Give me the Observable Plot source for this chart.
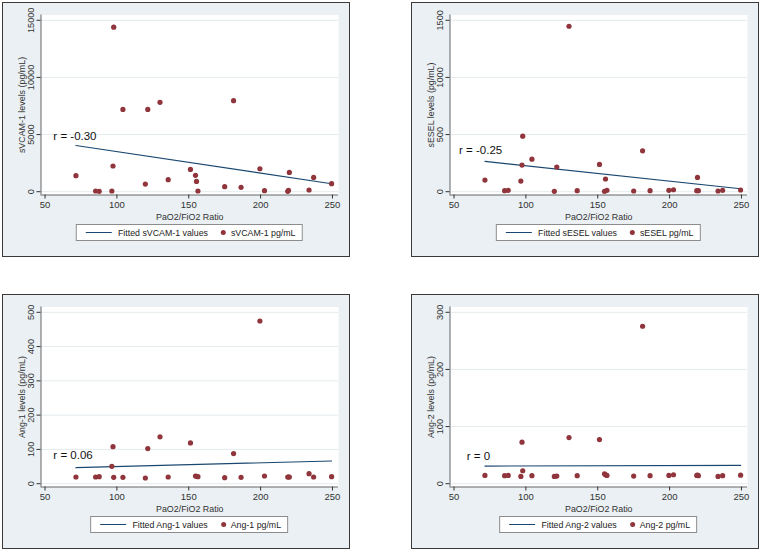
<!DOCTYPE html>
<html><head><meta charset="utf-8">
<script src="https://cdn.jsdelivr.net/npm/d3@7"></script>
<script src="https://cdn.jsdelivr.net/npm/@observablehq/plot@0.6"></script>
<style>
body{margin:0;background:#fff;font-family:"Liberation Sans",Arial,sans-serif;}
#wrap{position:relative;width:762px;height:553px;overflow:hidden;}
.panel{position:absolute;width:348px;height:255px;border:1.5px solid #3a3a3a;box-sizing:border-box;background:#eaf0f3;}
.panel svg{position:absolute;left:0;top:0;}
.legend{position:absolute;top:221px;height:17px;background:#fff;border:1px solid #8c8c8c;box-sizing:border-box;font-size:8.8px;color:#222;display:flex;align-items:center;padding:0 6px 0 9px;white-space:nowrap;transform:translateX(-50%);}
.sw-line{display:inline-block;width:26px;height:0;border-top:1px solid #1a476f;margin-right:6px;}
.sw-dot{display:inline-block;width:5px;height:5px;border-radius:50%;background:#90353b;margin:0 5px 0 13px;}
</style></head>
<body><div id="wrap"></div>
<script>
// PaO2/FiO2 ratio (shared by all panels)
const ratio = [71.5, 85.2, 87.7, 96.5, 97.3, 97.8, 104.2, 119.8, 121.5, 130.0, 135.7, 151.2, 154.7, 155.4, 156.4, 175.0, 181.2, 186.4, 199.5, 202.7, 218.9, 219.4, 220.0, 233.7, 236.9, 249.4];
const sVCAM = [1400, 60, 30, 60, 2250, 14400, 7200, 670, 7200, 7820, 1050, 1950, 1430, 900, 60, 440, 7970, 380, 2010, 90, 30, 120, 1690, 150, 1250, 700];
const sESEL = [102, 9, 12, 93, 233, 486, 285, 3, 216, 1448, 9, 239, 3, 111, 12, 6, 358, 9, 12, 17, 9, 125, 9, 6, 12, 15];
const ang1 = [19.5, 19.5, 20.5, 50.8, 108, 18.6, 18.6, 16.6, 102.5, 136.7, 19.5, 119, 22.5, 21.5, 20.5, 17.6, 88, 18.6, 474.6, 22.5, 19.5, 19.5, 19.5, 29.3, 19.5, 20.5];
const ang2 = [14.5, 14, 14.5, 12.8, 72.7, 22.7, 14, 12.8, 13.4, 80.8, 14, 77.3, 17.4, 15.5, 14.5, 13.4, 275.6, 14, 14.5, 15.7, 14.5, 15, 14, 12.8, 14, 15];

// fitted line endpoints
const fitX = [71.5, 249.4];
const fitSVCAM = [4050, 700];
const fitSESEL = [265, 26];
const fitAng1 = [46.9, 66.4];
const fitAng2 = [30.8, 32.0];

// correlation annotations
const rLabels = ["r = -0.30", "r = -0.25", "r = 0.06", "r = 0"];
const rX = [55.8, 53.5, 55.8, 58.9];
const rY = [4815, 361, 82, 47.7];

// axes
const xTicks = [50, 100, 150, 200, 250];
const yTicksSVCAM = [0, 5000, 10000, 15000];
const yTicksSESEL = [0, 500, 1000, 1500];
const yTicksAng1 = [0, 100, 200, 300, 400, 500];
const yTicksAng2 = [0, 100, 200, 300];
const yLabels = ["sVCAM-1 levels (pg/mL)", "sESEL levels (pg/mL)", "Ang-1 levels (pg/mL)", "Ang-2 levels (pg/mL)"];
const fitNames = ["Fitted sVCAM-1 values", "Fitted sESEL values", "Fitted Ang-1 values", "Fitted Ang-2 values"];
const ptNames = ["sVCAM-1 pg/mL", "sESEL pg/mL", "Ang-1 pg/mL", "Ang-2 pg/mL"];
const xLabel = "PaO2/FiO2 Ratio";

const panels = [
  {left: 2, top: 2, y: sVCAM, fit: fitSVCAM, ticks: yTicksSVCAM},
  {left: 411, top: 2, y: sESEL, fit: fitSESEL, ticks: yTicksSESEL},
  {left: 2, top: 294, y: ang1, fit: fitAng1, ticks: yTicksAng1},
  {left: 411, top: 294, y: ang2, fit: fitAng2, ticks: yTicksAng2}
];

const NAVY = "#1a476f", MAROON = "#90353b";
const W = 345, H = 222, ML = 37.5, MR = 10, MT = 11.5, MB = 30.5;
const wrap = document.getElementById("wrap");
const plain = d => String(d);

panels.forEach((p, i) => {
  const ymax = p.ticks[p.ticks.length - 1];
  const span = 171.5; // px between 0 and top tick
  const yDomain = [-3.3 / span * ymax, ymax * (1 + 5.3 / span)];
  const xDomain = [47.2, 254.2];
  const pts = ratio.map((r, j) => ({x: r, y: p.y[j]}));
  const fit = fitX.map((x, j) => ({x, y: p.fit[j]}));
  const ann = [{x: rX[i], y: rY[i], t: rLabels[i]}];

  const chart = Plot.plot({
    width: W, height: H,
    marginLeft: ML, marginRight: MR, marginTop: MT, marginBottom: MB,
    style: {background: "transparent", fontFamily: "Liberation Sans, Arial, sans-serif", color: "#222"},
    x: {domain: xDomain},
    y: {domain: yDomain},
    marks: [
      Plot.frame({fill: "white", stroke: null}),
      Plot.gridY(p.ticks, {stroke: "#e4ebee", strokeOpacity: 1}),
      Plot.ruleX([xDomain[0]], {stroke: "#666"}),
      Plot.ruleY([yDomain[0]], {stroke: "#666"}),
      Plot.axisX(xTicks, {tickSize: 4, tickPadding: 2, fontSize: 9.5, color: "#333", tickFormat: plain, label: xLabel, labelAnchor: "center", labelOffset: 25, labelArrow: "none"}),
      Plot.axisY(p.ticks, {tickSize: 4, tickPadding: 3, tickRotate: -90, fontSize: 9.2, color: "#333", tickFormat: plain, label: yLabels[i], labelAnchor: "center", labelOffset: 22, labelArrow: "none"}),
      Plot.line(fit, {x: "x", y: "y", stroke: NAVY, strokeWidth: 1.1}),
      Plot.dot(pts, {x: "x", y: "y", r: 2.6, fill: MAROON, stroke: null}),
      Plot.text(ann, {x: "x", y: "y", text: "t", textAnchor: "start", fontSize: 11.5, fill: "#111"})
    ]
  });
  chart.querySelectorAll("[aria-label='x-axis label'] text, [aria-label='y-axis label'] text").forEach(t => t.setAttribute("font-size", "8.9"));

  const div = document.createElement("div");
  div.className = "panel";
  div.style.left = p.left + "px";
  div.style.top = p.top + "px";
  div.appendChild(chart);
  const lg = document.createElement("div");
  lg.className = "legend";
  lg.style.left = ((ML + (W - MR)) / 2) + "px";
  lg.innerHTML = '<span class="sw-line"></span><span></span><span class="sw-dot"></span><span></span>';
  lg.children[1].textContent = fitNames[i];
  lg.children[3].textContent = ptNames[i];
  div.appendChild(lg);
  wrap.appendChild(div);
});
</script>
</body></html>
